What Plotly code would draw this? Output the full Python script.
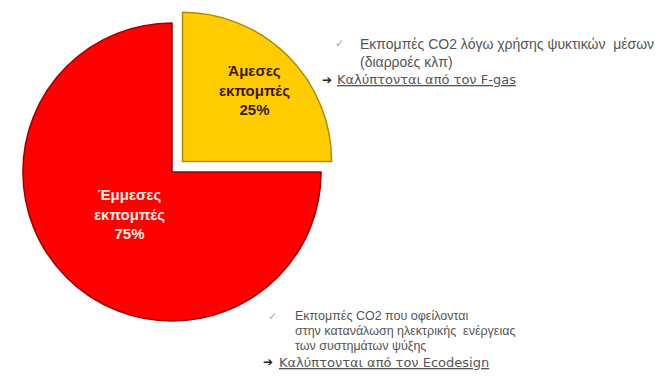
import math
import plotly.graph_objects as go

labels = ["Άμεσες<br>εκπομπές", "Έμμεσες<br>εκπομπές"]
values = [25, 75]
slice_colors = ["#FFCC00", "#FF0000"]
border_colors = ["#B08A00", "#A00000"]
label_colors = ["#3A1A00", "#FFE8E0"]
pulls = [0.1, 0]
label_radius = [0.68, 0.40]

top_lines = ["Εκπομπές CO2 λόγω χρήσης ψυκτικών  μέσων", "(διαρροές κλπ)"]
top_note = "Καλύπτονται από τον F-gas"
bottom_lines = ["Εκπομπές CO2 που οφείλονται",
                "στην κατανάλωση ηλεκτρικής  ενέργειας",
                "των συστημάτων ψύξης"]
bottom_note = "Καλύπτονται από τον Ecodesign"

# page body has an 8px margin: figure is drawn 8px right/down of the window origin
OFF = 8
W, H = 660, 369
dom_x = [0, 328 / W]
dom_y = [41 / H, 369 / H]

fig = go.Figure()
fig.add_trace(go.Pie(
    labels=labels, values=values, sort=False, direction="clockwise", rotation=0,
    pull=pulls,
    marker=dict(colors=slice_colors, line=dict(color=border_colors, width=1.5)),
    textinfo="none",
    showlegend=False, hoverinfo="label+percent",
    domain=dict(x=dom_x, y=dom_y),
))

def px(x):
    return (x - OFF) / W

def py(y):
    return 1 - (y - OFF) / H

ann = []

# slice labels placed from the pie geometry
bw, bh = W * (dom_x[1] - dom_x[0]), H * (dom_y[1] - dom_y[0])
r = min(bw, bh) / 2 / (1 + max(pulls))
cx = W * (dom_x[0] + dom_x[1]) / 2
cy = H * (1 - (dom_y[0] + dom_y[1]) / 2)
total = sum(values)
cum = 0
for lab, v, p, f, col in zip(labels, values, pulls, label_radius, label_colors):
    mid = 2 * math.pi * (cum + v / 2) / total
    cum += v
    d = (p + f) * r
    lx = cx + d * math.sin(mid)
    ly = cy - d * math.cos(mid)
    ann.append(dict(x=lx / W, y=1 - ly / H, text=f"{lab}<br>{round(100 * v / total)}%",
                    xanchor="center", yanchor="middle", align="center",
                    font=dict(family="Liberation Sans, Arial, sans-serif", size=15,
                              color=col, weight="bold")))

top_font = dict(family="Liberation Sans, Arial, sans-serif", size=14, color="#555555")
txt_font = dict(family="Liberation Sans, Arial, sans-serif", size=12.5, color="#555555")
note_font = dict(family="DejaVu Sans, sans-serif", size=13, color="#555555")
check_font = dict(family="DejaVu Sans, sans-serif", size=11, color="#8FB3CC")
arrow_font = dict(family="DejaVu Sans, sans-serif", size=12, color="#222222")

side = []
# top block
side.append(dict(x=px(333), y=py(44), text="✓", font=check_font))
for i, line in enumerate(top_lines):
    side.append(dict(x=px(358), y=py(44 + 18 * i), text=line, font=top_font))
side.append(dict(x=px(320), y=py(80), text="➔", font=arrow_font))
side.append(dict(x=px(335), y=py(80), text="<u>" + top_note + "</u>", font=note_font))
# bottom block
side.append(dict(x=px(266), y=py(316), text="✓", font=check_font))
for i, line in enumerate(bottom_lines):
    side.append(dict(x=px(293), y=py(316 + 15 * i), text=line, font=txt_font))
side.append(dict(x=px(261), y=py(362), text="➔", font=arrow_font))
side.append(dict(x=px(277), y=py(362), text="<u>" + bottom_note + "</u>", font=note_font))
for a in side:
    a.update(xanchor="left", yanchor="middle", align="left")
ann += side

for a in ann:
    a.update(xref="paper", yref="paper", showarrow=False)

fig.update_layout(
    width=W, height=H, margin=dict(l=0, r=0, t=0, b=0),
    paper_bgcolor="white", plot_bgcolor="white",
    annotations=ann,
)
fig.write_html("out.html")
